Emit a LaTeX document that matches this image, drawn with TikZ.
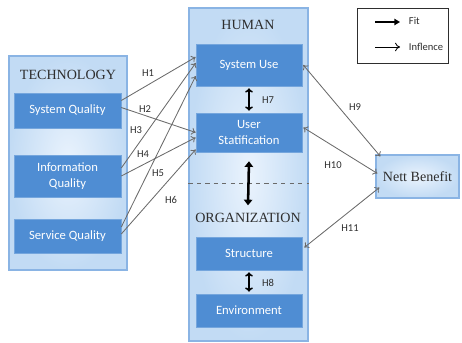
\documentclass[tikz,border=0pt]{standalone}
\usepackage{fontspec}
\setmainfont{Carlito}
\newfontfamily\titlefont{Liberation Serif}
\usetikzlibrary{arrows.meta,positioning,calc}
\definecolor{boxblue}{HTML}{4F8DD3}
\definecolor{boxline}{HTML}{75A6DD}
\definecolor{panelout}{HTML}{C2DBF4}
\definecolor{panelin}{HTML}{EAF3FD}
\definecolor{panelline}{HTML}{8AB4E4}
\definecolor{arrowgray}{HTML}{6A6A6A}
\definecolor{titlegray}{HTML}{2E2E2E}

\tikzset{
  panel/.style={draw=panelline,line width=0.8pt,inner color=panelin,outer color=panelout},
  factor/.style={draw=boxline,fill=boxblue,text=white,align=center,inner sep=0pt,font=\fontsize{9}{11}\selectfont},
  title/.style={text=titlegray,font=\titlefont\fontsize{10}{12}\selectfont},
  hyp/.style={text=titlegray,font=\fontsize{7.5}{9}\selectfont},
  infl/.style={draw=arrowgray,line width=0.6pt,-{To[length=3pt,width=5pt]}},
  infl2/.style={draw=arrowgray,line width=0.6pt,{To[length=3pt,width=5pt]}-{To[length=3pt,width=5pt]}},
  fitarrow/.style={line width=1.1pt,{To[length=3pt,width=5.5pt]}-{To[length=3pt,width=5.5pt]}},
  bigfit/.style={line width=1.8pt,{Triangle[length=4pt,width=6pt]}-{Triangle[length=4pt,width=6pt]}}
}

\begin{document}
\begin{tikzpicture}[x=0.025cm,y=-0.025cm]
  \useasboundingbox (0,0) rectangle (462,343);
  \node[panel,minimum width=2.95cm,minimum height=5.35cm] (tech) at (68,163) {};
  \node[panel,minimum width=2.975cm,minimum height=8.325cm] (human) at (248.5,174.5) {};
  \node[panel,minimum width=2.075cm,minimum height=1.075cm,title] (nett) at (417.5,176.5) {Nett Benefit};
  \node[draw=titlegray,line width=0.6pt,minimum width=2.275cm,minimum height=1.375cm] (legend) at (402.5,35.5) {};

  \node[title] (techt) at (68,75) {TECHNOLOGY};
  \node[title] (humant) at (248,25) {HUMAN};
  \node[title] (orgt) at (248,218) {ORGANIZATION};

  \node[factor,minimum width=2.675cm,minimum height=0.875cm] (sysq) at (67.5,110.5) {System Quality};
  \node[factor,minimum width=2.675cm,minimum height=1.05cm] (infq) at (67.5,176) {Information\\Quality};
  \node[factor,minimum width=2.675cm,minimum height=0.85cm] (servq) at (67.5,236) {Service Quality};

  \node[factor,minimum width=2.65cm,minimum height=1.05cm] (sysu) at (249,65) {System Use};
  \node[factor,minimum width=2.65cm,minimum height=0.975cm] (usat) at (249,132.5) {User\\Statification};
  \node[factor,minimum width=2.65cm,minimum height=0.825cm] (struc) at (249,253.5) {Structure};
  \node[factor,minimum width=2.65cm,minimum height=0.825cm] (env) at (249,310.5) {Environment};

  \draw[arrowgray,dashed,line width=0.7pt] (human.west |- 0,183) -- (human.east |- 0,183);

  \draw[infl] ($(sysq.east)+(0,-10)$) -- ($(sysu.west)+(0,-8)$);
  \draw[infl] ($(sysq.east)+(0,-3)$) -- ($(usat.west)+(0,0)$);
  \draw[infl] ($(infq.east)+(0,-8)$) -- ($(sysu.west)+(0,-2)$);
  \draw[infl] ($(infq.east)+(0,0)$) -- ($(usat.west)+(0,5)$);
  \draw[infl] ($(servq.east)+(0,-9)$) -- ($(sysu.west)+(0,11)$);
  \draw[infl] ($(servq.east)+(0,-2)$) -- ($(usat.west)+(0,17)$);

  \draw[fitarrow] ($(sysu.south)+(0,2)$) -- ($(usat.north)+(0,-2)$);
  \draw[bigfit] ($(usat.south)+(0,9)$) -- ($(orgt.north)+(0,-3)$);
  \draw[fitarrow] ($(struc.south)+(0,2)$) -- ($(env.north)+(0,-2)$);

  \draw[infl2] ($(sysu.east)+(1,0)$) -- ($(nett.north west)+(5,2)$);
  \draw[infl2] ($(usat.east)+(1,-5)$) -- ($(nett.west)+(2,-3)$);
  \draw[infl2] ($(struc.east)+(2,-6)$) -- ($(nett.west)+(4,11)$);

  \node[hyp] (h1) at (148,73) {H1};
  \node[hyp] (h2) at (145,109) {H2};
  \node[hyp] (h3) at (136,130) {H3};
  \node[hyp] (h4) at (143,154) {H4};
  \node[hyp] (h5) at (158,173) {H5};
  \node[hyp] (h6) at (171,200) {H6};
  \node[hyp] (h7) at (268,100) {H7};
  \node[hyp] (h8) at (268,283) {H8};
  \node[hyp] (h9) at (355,107) {H9};
  \node[hyp] (h10) at (333,165) {H10};
  \node[hyp] (h11) at (350,228) {H11};

  \coordinate (fitA) at (375,22);
  \coordinate (fitB) at (400,22);
  \coordinate (infA) at (375,47);
  \coordinate (infB) at (400,47);
  \draw[line width=1pt,-{Triangle[length=4pt,width=4.5pt]}] (fitA) -- (fitB);
  \draw[line width=0.6pt,-{To[length=3.5pt,width=6pt]}] (infA) -- (infB);
  \node[hyp,anchor=west] (fitt) at (404,21) {Fit};
  \node[hyp,anchor=west] (inft) at (404,47) {Inflence};
\end{tikzpicture}
\end{document}
